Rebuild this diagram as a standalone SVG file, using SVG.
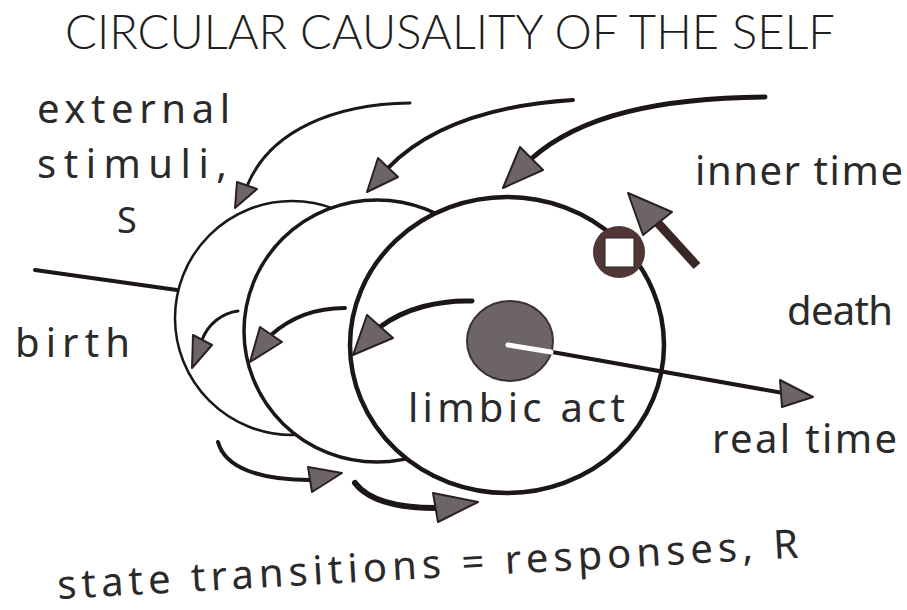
<svg xmlns="http://www.w3.org/2000/svg" width="907" height="610" viewBox="0 0 907 610">
<style>
.bg{fill:#ffffff}
.ring{fill:#ffffff;stroke:#1c1616}
.ln{fill:none;stroke:#1c1616;stroke-linecap:round}
.head{fill:#6c6466;stroke:#2a2020;stroke-width:2;stroke-linejoin:round}
.lbl{font-family:"Noto Sans","DejaVu Sans",sans-serif;font-size:40px;fill:#2a2a2a}
.title{font-family:"Lato","Roboto","Liberation Sans",sans-serif;font-weight:300;font-size:47px;fill:#1e1e1e}
</style>
<rect class="bg" x="0" y="0" width="907" height="610"/>
<text class="title" x="65" y="49" textLength="770" lengthAdjust="spacingAndGlyphs">CIRCULAR CAUSALITY OF THE SELF</text>

<g id="self-left">
<ellipse class="ring" cx="292" cy="318" rx="117" ry="117" stroke-width="2.5"/>
</g>
<g id="self-middle">
<ellipse class="ring" cx="377" cy="331" rx="133" ry="131" stroke-width="3.5"/>
</g>
<g id="self-right">
<ellipse class="ring" cx="507" cy="345" rx="157" ry="148" stroke-width="4.5"/>
</g>

<g id="limbic-act">
<ellipse cx="510" cy="341" rx="43" ry="40" fill="#6c6466" stroke="#3d3030" stroke-width="2"/>
<text class="lbl" x="408" y="422" textLength="217">limbic act</text>
</g>

<g id="inner-time-marker">
<circle cx="619" cy="252" r="26" fill="#503634"/>
<rect x="605" y="238" width="29" height="29" fill="#ffffff" stroke="#2a2020" stroke-width="1"/>
</g>

<g id="connectors">
<path class="ln" d="M35,270 L177,290" stroke-width="4"/>
<path class="ln" d="M410,103 C335,104 270,130 247,186" stroke-width="3"/>
<polygon class="head" points="237,182 257,189 235,208"/>
<path class="ln" d="M573,100 C495,105 430,125 388,168" stroke-width="4"/>
<polygon class="head" points="378,158 398,177 367,192"/>
<path class="ln" d="M765,97 C660,98 580,115 531,159" stroke-width="5"/>
<polygon class="head" points="520,147 543,170 503,188"/>
<path d="M697,266 L657,222" stroke="#3a2626" stroke-width="9" fill="none"/>
<polygon class="head" points="628,193 672,212 643,235"/>
<path class="ln" d="M472,301 C440,300 405,308 380,327" stroke-width="5"/>
<polygon class="head" points="367,315 393,338 353,355"/>
<path class="ln" d="M345,308 C315,308 290,318 271,335" stroke-width="4"/>
<polygon class="head" points="260,327 282,342 250,362"/>
<path class="ln" d="M238,311 C222,313 208,324 202,340" stroke-width="3"/>
<polygon class="head" points="193,335 212,345 192,368"/>
<path class="ln" d="M218,442 C225,468 260,480 310,480" stroke-width="4"/>
<polygon class="head" points="308,467 342,473 312,492"/>
<path class="ln" d="M355,483 C368,500 395,508 436,508" stroke-width="6"/>
<polygon class="head" points="433,493 478,502 438,522"/>
<path class="ln" d="M552,352 L783,393" stroke-width="4"/>
<path d="M508,345 L551,352" stroke="#ffffff" stroke-width="5" stroke-linecap="round" fill="none"/>
<polygon class="head" points="780,380 813,397 782,407"/>
</g>

<g id="labels">
<text class="lbl" x="37" y="123" textLength="193">external</text>
<text class="lbl" x="37" y="178" textLength="190">stimuli,</text>
<text class="lbl" x="117" y="233" style="font-size:36px">S</text>
<text class="lbl" x="15" y="357" textLength="115">birth</text>
<text class="lbl" x="695" y="185" textLength="208">inner time</text>
<text class="lbl" x="787" y="325" textLength="106">death</text>
<text class="lbl" x="712" y="453" textLength="185">real time</text>
<text class="lbl" x="58" y="599" textLength="742" transform="rotate(-3.2 58 599)">state transitions = responses, R</text>
</g>
</svg>
